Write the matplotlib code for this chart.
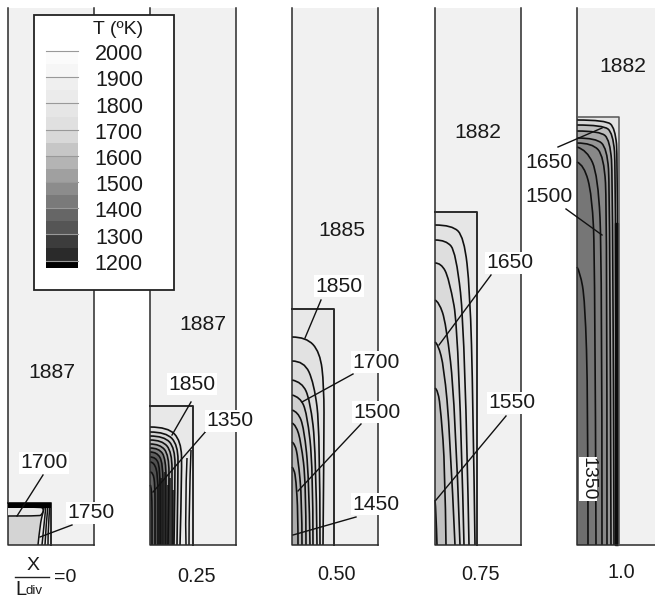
import matplotlib
matplotlib.use("Agg")
import matplotlib.pyplot as plt
import numpy as np
from matplotlib.path import Path
from matplotlib.patches import PathPatch, Rectangle
from matplotlib.colors import ListedColormap, BoundaryNorm

plt.rcParams['font.family'] = ['Liberation Sans', 'DejaVu Sans']

# legend
legend_levels = [1172] + list(range(1200, 2001, 50))
legend_greys = [0, 42, 60, 85, 102, 122, 140, 160, 180, 198, 216, 224, 230, 235, 239, 246, 251]
legend_ticks = [2000, 1900, 1800, 1700, 1600, 1500, 1400, 1300, 1200]

# panels: left wall, inner-box right, inner-box top
panel_names = ['0', '0.25', '0.50', '0.75', '1.0']
panel_left = [8, 150, 292, 435, 577]
panel_right = [94, 236, 378, 521, 663]
box_right = [51, 193, 334, 477, 619]
box_top = [503, 406, 309, 212, 117]
box_grey = [234, 232, 232, 230, 228]
far_grey = 241
y_top = 8
y_bottom = 545

# traced contours: outer to inner, each from the left wall down to the base
p0_curves = [
    [(8, 504), (45, 504), (43, 512), (40, 525), (38, 545)],
]
p0_greys = [212]
p0_lines = [
    [(42, 545), (44, 525), (46, 505)],
    [(45, 545), (46, 525), (48, 505)],
    [(48, 545), (48, 525), (50, 505)],
]
p0_loop = [(8, 507), (38, 507), (44, 508), (42, 515), (38, 516), (8, 516)]

p1_curves = [
    [(150, 427), (168, 427), (181, 441), (182, 470), (180, 545)],
    [(150, 432), (166, 432), (178, 445), (178, 475), (177, 545)],
    [(150, 436), (164, 436), (175, 448), (175, 480), (174, 545)],
    [(150, 440), (162, 440), (172, 452), (172, 485), (172, 545)],
    [(150, 444), (160, 444), (169, 455), (169, 490), (168, 545)],
    [(150, 448), (159, 448), (166, 459), (166, 495), (166, 545)],
    [(150, 452), (157, 452), (163, 463), (163, 500), (163, 545)],
    [(150, 457), (156, 457), (160, 468), (160, 505), (160, 545)],
    [(150, 462), (154, 462), (158, 475), (158, 510), (158, 545)],
    [(150, 472), (153, 472), (155, 485), (155, 515), (155, 545)],
    [(150, 485), (151, 485), (152, 500), (152, 525), (152, 545)],
]
p1_greys = [224, 214, 204, 190, 165, 125, 95, 80, 80, 100, 115]
p1_lines = [
    [(191, 450), (189, 500), (189, 545)],
    [(187, 458), (185, 505), (186, 545)],
    [(170, 478), (170, 545)],
    [(165, 472), (165, 545)],
    [(161, 478), (161, 545)],
    [(168, 485), (168, 545)],
    [(173, 490), (173, 545)],
]

p2_curves = [
    [(292, 337), (306, 337), (320, 352), (324, 385), (324, 440), (323, 545)],
    [(292, 361), (304, 361), (314, 383), (320, 430), (320, 545)],
    [(292, 380), (302, 382), (310, 400), (316, 450), (317, 545)],
    [(292, 395), (300, 397), (307, 413), (313, 467), (313, 545)],
    [(292, 410), (298, 412), (304, 428), (309, 477), (310, 545)],
    [(292, 423), (296, 425), (301, 442), (306, 483), (306, 545)],
    [(292, 442), (295, 444), (298, 458), (302, 500), (302, 545)],
    [(292, 467), (294, 469), (296, 480), (298, 513), (298, 545)],
]
p2_greys = [226, 220, 214, 208, 200, 192, 182, 172]

p3_curves = [
    [(435, 225), (452, 225), (464, 237), (470, 290), (473, 400), (475, 545)],
    [(435, 240), (446, 240), (456, 252), (465, 333), (469, 545)],
    [(435, 263), (441, 263), (449, 278), (459, 333), (464, 545)],
    [(435, 300), (439, 302), (446, 323), (455, 400), (460, 545)],
    [(435, 342), (438, 344), (444, 367), (450, 433), (455, 545)],
    [(435, 388), (438, 390), (441, 413), (445, 467), (446, 545)],
    [(435, 500), (436, 510), (437, 545)],
]
p3_greys = [226, 222, 218, 212, 206, 192, 178]

p4_curves = [
    [(577, 120), (606, 120), (615, 128), (618, 160), (618, 545)],
    [(577, 125), (603, 125), (613, 133), (616, 170), (616, 545)],
    [(577, 131), (600, 131), (610, 140), (613, 180), (614, 545)],
    [(577, 138), (596, 138), (607, 148), (610, 190), (611, 545)],
    [(577, 143), (592, 143), (604, 156), (607, 210), (607, 545)],
    [(577, 147), (587, 150), (598, 175), (602, 260), (602, 545)],
    [(577, 162), (584, 165), (592, 195), (595, 260), (596, 545)],
    [(577, 267), (580, 272), (585, 300), (588, 400), (588, 545)],
]
p4_greys = [214, 190, 168, 150, 136, 126, 118, 110]
p4_strip = [(615, 223), (618, 223), (618, 545), (615, 545)]

all_curves = [p0_curves, p1_curves, p2_curves, p3_curves, p4_curves]
all_greys = [p0_greys, p1_greys, p2_greys, p3_greys, p4_greys]
all_lines = [p0_lines, p1_lines, [], [], []]

# labels: text, x, y
field_labels = [('1887', 52, 373), ('1887', 203, 324), ('1885', 342, 231),
                ('1882', 478, 133), ('1882', 623, 67)]
contour_labels = [('1700', 44, 463), ('1750', 91, 513), ('1850', 192, 384),
                  ('1350', 230, 421), ('1850', 339, 286), ('1700', 376, 362),
                  ('1500', 377, 412), ('1450', 376, 504), ('1650', 510, 263),
                  ('1550', 512, 403), ('1650', 549, 162), ('1500', 549, 197)]
leaders = [[(43, 475), (17, 516)], [(72, 525), (40, 537)], [(191, 402), (172, 435)],
           [(207, 430), (153, 492)], [(321, 300), (305, 338)], [(353, 374), (302, 402)],
           [(361, 424), (298, 491)], [(356, 517), (293, 535)], [(491, 275), (439, 345)],
           [(506, 416), (436, 500)], [(558, 147), (602, 128)], [(566, 209), (602, 235)]]
station_labels = [('0.25', 196, 576), ('0.50', 337, 575), ('0.75', 480, 575), ('1.0', 621, 573)]


def gr(v):
    return (v / 255, v / 255, v / 255)


def smooth(points):
    """Quadratic spline through the traced control points."""
    verts = [points[0]]
    codes = [Path.MOVETO]
    for i in range(1, len(points) - 1):
        ctrl = points[i]
        if i < len(points) - 2:
            end = ((points[i][0] + points[i + 1][0]) / 2, (points[i][1] + points[i + 1][1]) / 2)
        else:
            end = points[i + 1]
        verts += [ctrl, end]
        codes += [Path.CURVE3, Path.CURVE3]
    if len(points) == 2:
        verts.append(points[1])
        codes.append(Path.LINETO)
    return verts, codes


fig = plt.figure(figsize=(6.55, 5.98), dpi=100, facecolor='white')
ax = fig.add_axes([0, 0, 1, 1])
ax.set_xlim(0, 655)
ax.set_ylim(598, 0)
ax.axis('off')

edge = '#2a2a2a'
for i in range(5):
    L, R, B, T = panel_left[i], panel_right[i], box_right[i], box_top[i]
    ax.add_patch(Rectangle((L, y_top), R - L, y_bottom - y_top, fc=gr(far_grey), ec='none', zorder=1))
    ax.add_patch(Rectangle((L, T), B - L, y_bottom - T, fc=gr(box_grey[i]), ec='none', zorder=1.5))
    for curve, g in zip(all_curves[i], all_greys[i]):
        v, c = smooth(curve)
        ax.add_patch(PathPatch(Path(v + [(L, y_bottom), v[0]], c + [Path.LINETO, Path.LINETO]),
                               fc=gr(g), ec='none', zorder=2))
        if i > 0:
            ax.add_patch(PathPatch(Path(v, c), fc='none', ec='#111111', lw=1.2, zorder=3))
    for line in all_lines[i]:
        v, c = smooth(line)
        ax.add_patch(PathPatch(Path(v, c), fc='none', ec='#111111', lw=1.1, zorder=3))
    ax.plot([L, L, R if i < 4 else 655], [y_top, y_bottom, y_bottom], color=edge, lw=1.1, zorder=4)
    if i < 4:
        ax.plot([R, R], [y_top, y_bottom], color=edge, lw=1.1, zorder=4)
    ax.plot([L, B, B], [T, T, y_bottom], color=edge if i < 4 else '#555555', lw=1.4 if i < 4 else 1.1, zorder=4)

# panel 0 details
v, c = smooth(p0_curves[0][1:])
ax.add_patch(PathPatch(Path(v, c), fc='none', ec='#111111', lw=1.1, zorder=3))
ax.add_patch(Rectangle((8, 503), 43, 4.5, fc='black', ec='none', zorder=5))
v, c = smooth(p0_loop)
ax.add_patch(PathPatch(Path(v, c), fc=gr(232), ec='#111111', lw=1.1, zorder=4))
# panel 4 black strip
ax.fill([p[0] for p in p4_strip], [p[1] for p in p4_strip], color='#0c0c0c', zorder=3.5)

# leaders and labels
for ln in leaders:
    ax.plot([ln[0][0], ln[1][0]], [ln[0][1], ln[1][1]], color='#111111', lw=1.0, zorder=6)
fs = 15.2
for t, x, y in field_labels:
    ax.text(x, y, t, fontsize=fs, ha='center', va='center', color='#1a1a1a', zorder=7)
for t, x, y in contour_labels:
    ax.text(x, y, t, fontsize=fs, ha='center', va='center', color='#1a1a1a', zorder=7,
            bbox=dict(fc='white', ec='none', pad=0.8))
ax.text(588, 479, '1350', fontsize=fs - 1.2, rotation=270, ha='center', va='center', color='#1a1a1a',
        zorder=7, bbox=dict(fc='white', ec='none', pad=0.3))

# legend box
ax.add_patch(Rectangle((34, 15), 140, 275, fc='white', ec='#222222', lw=1.3, zorder=8))
cmap = ListedColormap([gr(g) for g in legend_greys])
norm = BoundaryNorm(legend_levels, cmap.N)
lv = np.array(legend_levels, dtype=float)
y_of = lambda t: 51 + (2000 - t) * 0.262
bar_y = y_of(lv)
ax.pcolormesh([46, 78], bar_y, ((lv[:-1] + lv[1:]) / 2)[:, None], cmap=cmap, norm=norm, zorder=9)
for t in legend_ticks:
    yy = y_of(t)
    ax.plot([46, 78], [yy, yy], color='#999999', lw=0.8, zorder=10)
    ax.text(143, yy + 3.7, str(t), fontsize=15.5, ha='right', va='center', color='#1a1a1a', zorder=10)
ax.text(143, 30, 'T (ºK)', fontsize=14, ha='right', va='center', color='#1a1a1a', zorder=10)

# stations
ax.text(33, 566, 'X', fontsize=14, ha='center', va='center', color='#1a1a1a')
ax.plot([15, 49], [577, 577], color='#222222', lw=1.0)
ax.text(15, 589.5, 'L', fontsize=14.5, ha='left', va='center', color='#1a1a1a')
ax.text(26, 591.5, 'div', fontsize=9.5, ha='left', va='center', color='#1a1a1a')
ax.text(54, 577, '=0', fontsize=14, ha='left', va='center', color='#1a1a1a')
for t, x, y in station_labels:
    ax.text(x, y, t, fontsize=14.3, ha='center', va='center', color='#1a1a1a')

fig.savefig('out.png', dpi=100, facecolor='white')
